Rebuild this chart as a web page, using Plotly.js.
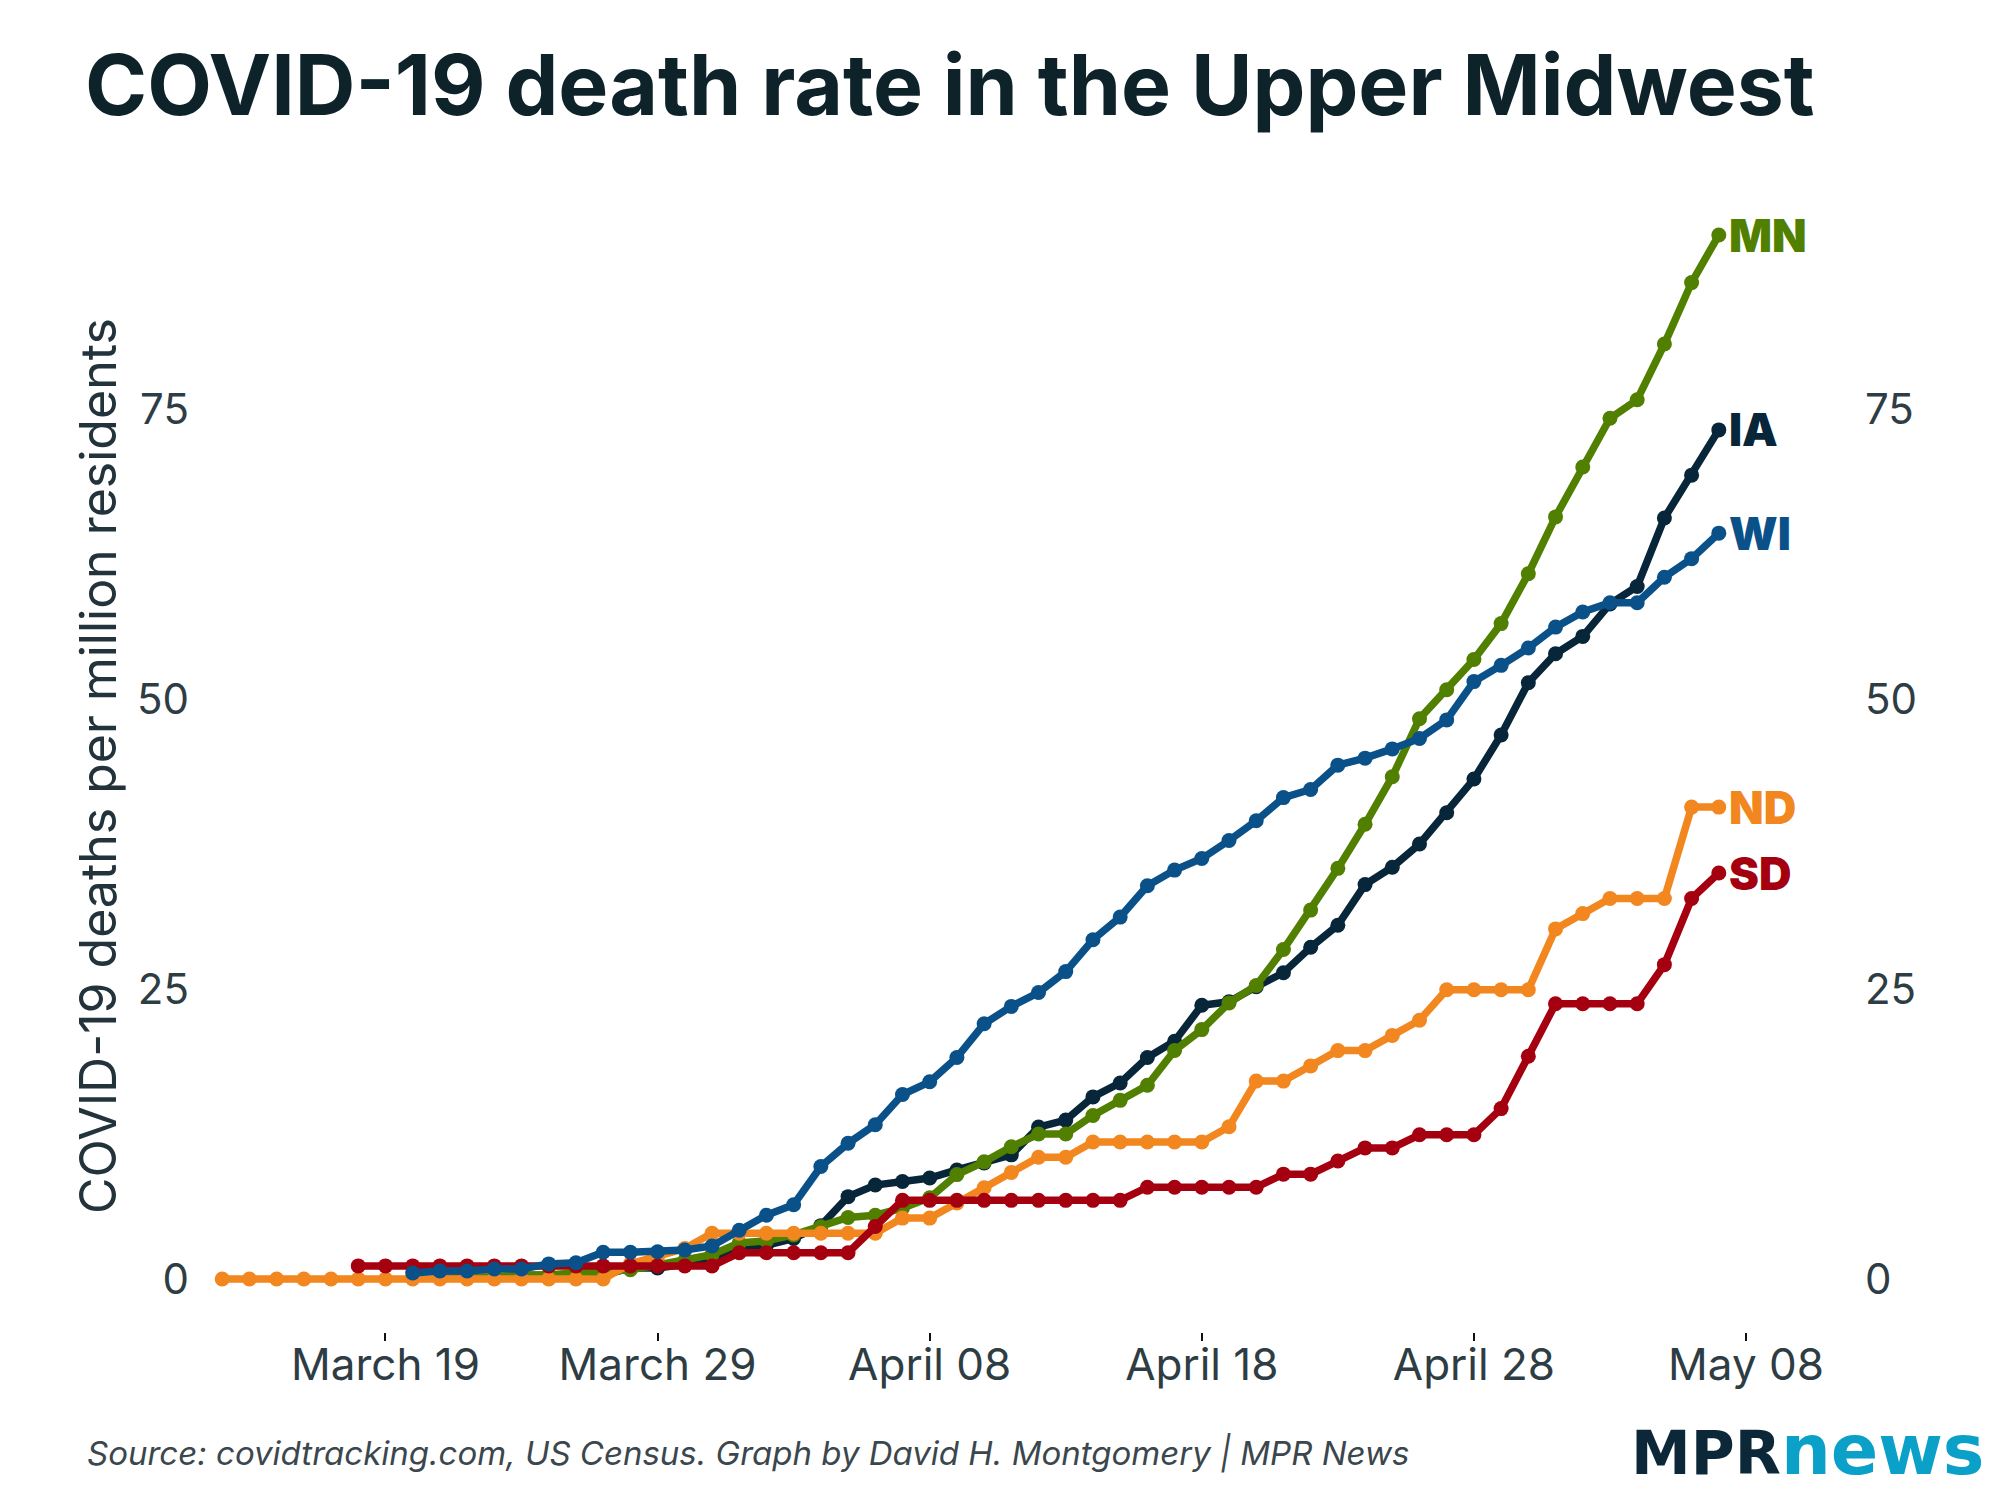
<!DOCTYPE html>
<html>
<head>
<meta charset="utf-8">
<script src="https://cdn.plot.ly/plotly-3.0.1.min.js"></script>
<style>
  html, body { margin: 0; padding: 0; background: #ffffff; }
  #chart { width: 2000px; height: 1500px; }
</style>
</head>
<body>
<div id="chart"></div>
<script>
// ---- Data (cumulative COVID-19 deaths per million residents) ----
const dates = [
  '2020-03-13','2020-03-14','2020-03-15','2020-03-16','2020-03-17','2020-03-18','2020-03-19',
  '2020-03-20','2020-03-21','2020-03-22','2020-03-23','2020-03-24','2020-03-25','2020-03-26',
  '2020-03-27','2020-03-28','2020-03-29','2020-03-30','2020-03-31',
  '2020-04-01','2020-04-02','2020-04-03','2020-04-04','2020-04-05','2020-04-06','2020-04-07',
  '2020-04-08','2020-04-09','2020-04-10','2020-04-11','2020-04-12','2020-04-13','2020-04-14',
  '2020-04-15','2020-04-16','2020-04-17','2020-04-18','2020-04-19','2020-04-20','2020-04-21',
  '2020-04-22','2020-04-23','2020-04-24','2020-04-25','2020-04-26','2020-04-27','2020-04-28',
  '2020-04-29','2020-04-30',
  '2020-05-01','2020-05-02','2020-05-03','2020-05-04','2020-05-05','2020-05-06','2020-05-07'
];

const stateNames = ['IA', 'MN', 'ND', 'SD', 'WI'];
const stateColors = ['#08263a', '#517f00', '#f2861f', '#a5000f', '#0b5189'];

const IA = [null,null,null,null,null,null,null,null,null,null,null,
  0.32,0.32,0.32,0.32,0.95,0.95,1.27,1.9,2.5,2.9,3.5,4.6,7.1,8.1,8.4,8.7,9.4,10.0,10.7,
  13.1,13.7,15.7,16.9,19.1,20.5,23.6,23.9,25.2,26.4,28.6,30.5,34.0,35.5,37.5,40.2,43.1,
  46.9,51.4,53.9,55.4,58.2,59.7,65.6,69.3,73.2];

const MN = [null,null,null,null,null,null,null,null,
  0.18,0.18,0.18,0.35,0.35,0.53,0.71,0.8,1.2,1.6,2.1,3.1,3.3,3.8,4.5,5.3,5.5,6.1,7.0,
  9.0,10.1,11.4,12.5,12.5,14.1,15.4,16.7,19.7,21.5,23.8,25.3,28.4,31.8,35.4,39.2,43.3,
  48.3,50.8,53.4,56.5,60.8,65.7,70.0,74.2,75.8,80.6,85.9,90.0];

const ND = [0,0,0,0,0,0,0,0,0,0,0,0,0,0,0,
  1.31,1.9,2.62,3.94,3.94,3.94,3.94,3.94,3.94,3.94,5.25,5.25,6.56,7.87,9.19,10.5,10.5,
  11.81,11.81,11.81,11.81,11.81,13.12,17.06,17.06,18.37,19.69,19.69,21.0,22.31,
  24.93,24.93,24.93,24.93,30.18,31.5,32.8,32.8,32.8,40.68,40.68];

const SD = [null,null,null,null,null,
  1.13,1.13,1.13,1.13,1.13,1.13,1.13,1.13,1.13,1.13,1.13,1.13,1.13,1.13,
  2.26,2.26,2.26,2.26,2.26,4.52,6.78,6.78,6.78,6.78,6.78,6.78,6.78,6.78,6.78,
  7.91,7.91,7.91,7.91,7.91,9.04,9.04,10.17,11.3,11.3,12.43,12.43,12.43,14.69,19.2,
  23.73,23.73,23.73,23.73,27.1,32.8,35.0];

const WI = [null,null,null,null,null,null,null,
  0.52,0.69,0.69,0.86,0.86,1.3,1.4,2.3,2.3,2.35,2.5,2.85,4.2,5.5,6.4,9.7,11.7,13.3,
  15.9,17.0,19.1,22.0,23.5,24.7,26.5,29.25,31.2,33.9,35.25,36.25,37.8,39.5,41.5,42.2,
  44.3,44.9,45.7,46.6,48.2,51.5,52.9,54.4,56.2,57.5,58.3,58.3,60.5,62.1,64.3];

const stateSeries = [IA, MN, ND, SD, WI];

const xTickVals = ['2020-03-19','2020-03-29','2020-04-08','2020-04-18','2020-04-28','2020-05-08'];
const xTickText = ['March 19','March 29','April 08','April 18','April 28','May 08'];
const yTickVals = [0, 25, 50, 75];
const yTickText = ['0', '25', '50', '75'];

const titleText = 'COVID-19 death rate in the Upper Midwest';
const yTitleText = 'COVID-19 deaths per million residents';
const sourceText = 'Source: covidtracking.com, US Census. Graph by David H. Montgomery | MPR News';

// ---- Traces ----
const traces = stateNames.map((name, i) => ({
  type: 'scatter',
  mode: 'lines+markers',
  name: name,
  x: dates,
  y: stateSeries[i],
  connectgaps: false,
  line: { color: stateColors[i], width: 7.5 },
  marker: { color: stateColors[i], size: 15 },
  hoverinfo: 'skip',
  showlegend: false
}));

// ---- End labels ----
const labelAnnotations = stateNames.map((name, i) => {
  const ys = stateSeries[i];
  const lastIdx = ys.length - 1;
  return {
    x: dates[lastIdx], y: ys[lastIdx], xref: 'x', yref: 'y',
    text: name, showarrow: false, xanchor: 'left', yanchor: 'middle',
    xshift: 8,
    font: { family: 'Inter, Roboto, sans-serif', size: 45, weight: 900, color: stateColors[i] }
  };
});

const yTickFont = { family: 'Inter, Roboto, sans-serif', size: 42, color: '#2e3d44' };
const xTickFont = { family: 'Inter, Roboto, sans-serif', size: 44, color: '#2e3d44' };

const layout = {
  width: 2000, height: 1500,
  paper_bgcolor: '#ffffff', plot_bgcolor: '#ffffff',
  margin: { l: 200, r: 144, t: 200, b: 168, pad: 0 },
  showlegend: false,
  title: {
    text: titleText,
    font: { family: 'Inter, Roboto, sans-serif', size: 84, weight: 700, color: '#0d2329' },
    x: 0.0425, xanchor: 'left', xref: 'container',
    y: 0.943, yanchor: 'middle', yref: 'container'
  },
  xaxis: {
    type: 'date',
    range: ['2020-03-12 04:25', '2020-05-12 01:00'],
    tickmode: 'array', tickvals: xTickVals, ticktext: xTickText,
    ticks: 'outside', ticklen: 8, tickwidth: 2, tickcolor: '#111111',
    showgrid: false, zeroline: false, showline: false,
    tickfont: xTickFont, ticklabelstandoff: -14
  },
  yaxis: {
    range: [-4.57, 93.02],
    tickmode: 'array', tickvals: yTickVals, ticktext: yTickText,
    ticks: '', showgrid: false, zeroline: false, showline: false,
    tickfont: yTickFont, ticklabelstandoff: 10,
    title: { text: yTitleText, font: { family: 'Inter, Roboto, sans-serif', size: 50, color: '#22333b' }, standoff: 4 }
  },
  yaxis2: {
    overlaying: 'y', side: 'right', anchor: 'x',
    range: [-4.57, 93.02],
    tickmode: 'array', tickvals: yTickVals, ticktext: yTickText,
    ticks: '', showgrid: false, zeroline: false, showline: false,
    tickfont: yTickFont, ticklabelstandoff: 8
  },
  annotations: labelAnnotations.concat([
    {
      xref: 'paper', yref: 'paper', x: -0.0694, y: -0.1069,
      xanchor: 'left', yanchor: 'middle', showarrow: false,
      text: '<i>' + sourceText + '</i>',
      font: { family: 'Inter, Roboto, sans-serif', size: 33, color: '#3b474d' }
    },
    {
      xref: 'paper', yref: 'paper', x: 1.0791, y: -0.1042,
      xanchor: 'right', yanchor: 'middle', showarrow: false,
      text: "<b><span style='color:#0c2738'>MPR</span><span style='color:#0aa0c8;font-size:70px'>news</span></b>",
      font: { family: 'DejaVu Sans', size: 60, color: '#0c2738' }
    }
  ])
};

// invisible companion trace so the right-hand axis is drawn (same data)
traces.push({
  type: 'scatter', mode: 'markers', x: dates, y: MN, yaxis: 'y2',
  marker: { opacity: 0 }, hoverinfo: 'skip', showlegend: false
});

Plotly.newPlot('chart', traces, layout, { displayModeBar: false, staticPlot: true });
</script>
</body>
</html>
